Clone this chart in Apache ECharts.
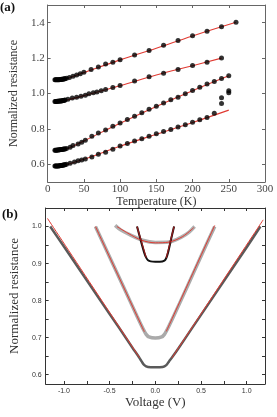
<!DOCTYPE html>
<html><head><meta charset="utf-8">
<script src="https://cdn.jsdelivr.net/npm/echarts@6/dist/echarts.min.js"></script>
<style>html,body{margin:0;padding:0;background:#fff}#c{width:277px;height:417px}</style>
</head><body><div id="c"></div>
<script>
// ---------- Panel (a): resistance vs temperature ----------
const tempTicks = [0, 50, 100, 150, 200, 250, 300];
const resTicksA = [0.6, 0.8, 1.0, 1.2, 1.4];

const s1T = [10,11,12,13,14,15,16,17,18,19,20,21,22,23,24,26,30,35,40,45,50,60,70,80,90,100,120,140,160,180,200,220,240,260];
const s1R = [1.077,1.077,1.077,1.077,1.078,1.078,1.078,1.079,1.079,1.080,1.080,1.081,1.082,1.083,1.084,1.086,1.090,1.098,1.104,1.111,1.120,1.135,1.150,1.166,1.177,1.190,1.217,1.243,1.272,1.300,1.326,1.351,1.377,1.402];

const s2T = [10,11,12,13,14,15,16,17,18,19,20,21,22,23,24,28,34,40,46,52,57,63,68,74,80,90,100,120,140,160,180,200,220,240];
const s2R = [0.955,0.955,0.955,0.956,0.956,0.956,0.957,0.957,0.958,0.958,0.959,0.960,0.961,0.962,0.963,0.968,0.974,0.979,0.985,0.990,0.998,1.004,1.009,1.015,1.023,1.034,1.045,1.070,1.094,1.115,1.136,1.158,1.177,1.200];

const s3T = [10,11,12,13,14,15,16,17,18,19,20,21,22,23,24,26,31,35,42,47,52,61,70,80,90,100,110,120,130,140,150,160,170,180,190,200,210,220,230,240,250];
const s3R = [0.680,0.680,0.680,0.681,0.681,0.681,0.682,0.682,0.683,0.683,0.684,0.685,0.686,0.686,0.687,0.689,0.696,0.706,0.715,0.725,0.736,0.758,0.777,0.794,0.815,0.834,0.853,0.872,0.891,0.911,0.928,0.947,0.964,0.979,0.998,1.017,1.036,1.053,1.068,1.085,1.100];

const s4T = [10,11,12,13,14,15,16,17,18,19,20,21,22,23,24,26,31,37,42,47,52,61,70,80,90,100,110,120,130,140,150,160,170,180,190,200,210,220,230,240,240,250,250];
const s4R = [0.590,0.590,0.590,0.591,0.591,0.591,0.592,0.592,0.593,0.593,0.594,0.595,0.596,0.597,0.598,0.600,0.606,0.613,0.620,0.625,0.630,0.641,0.657,0.668,0.685,0.704,0.717,0.732,0.745,0.758,0.772,0.785,0.796,0.811,0.824,0.838,0.851,0.864,0.889,0.944,0.976,1.004,1.016];

const fit1 = [[10,1.077],[20,1.079],[30,1.089],[50,1.118],[100,1.190],[150,1.256],[200,1.325],[260,1.402]];
const fit2 = [[10,0.955],[20,0.958],[30,0.967],[50,0.988],[100,1.044],[150,1.104],[200,1.157],[240,1.200]];
const fit3 = [[10,0.680],[20,0.682],[30,0.693],[50,0.732],[100,0.832],[150,0.927],[200,1.016],[250,1.100]];
const fit4 = [[10,0.590],[20,0.593],[30,0.603],[50,0.628],[100,0.702],[150,0.770],[200,0.836],[250,0.906]];

// ---------- Panel (b): resistance vs voltage ----------
const voltLabels = [-1.0, -0.5, 0.0, 0.5, 1.0];
const voltTicks = [-1.0,-0.75,-0.5,-0.25,0,0.25,0.5,0.75,1.0];
const resLabelsB = [0.6, 0.7, 0.8, 0.9, 1.0];
const resTicksB = [0.6,0.65,0.7,0.75,0.8,0.85,0.9,0.95,1.0];

const curveA = [[-1.15,1.0],[-1.0,0.946],[-0.8,0.873],[-0.6,0.800],[-0.4,0.728],[-0.25,0.673],[-0.18,0.648],[-0.15,0.636],[-0.12,0.626],[-0.08,0.621],[0,0.620],[0.08,0.621],[0.12,0.626],[0.15,0.636],[0.19,0.649],[0.25,0.670],[0.4,0.725],[0.6,0.798],[0.8,0.871],[1.0,0.944],[1.15,1.0]];
const curveB = [[-0.655,1.0],[-0.5,0.918],[-0.35,0.838],[-0.2,0.758],[-0.13,0.722],[-0.1,0.709],[-0.07,0.702],[0,0.699],[0.07,0.702],[0.1,0.709],[0.13,0.722],[0.2,0.758],[0.35,0.838],[0.5,0.920],[0.65,1.0]];
const curveC = [[-0.44,1.003],[-0.38,0.991],[-0.28,0.978],[-0.14,0.963],[0,0.957],[0.15,0.958],[0.29,0.972],[0.37,0.985],[0.43,1.0]];
const curveD = [[-0.2,1.0],[-0.16,0.963],[-0.12,0.928],[-0.1,0.916],[-0.08,0.909],[-0.05,0.906],[0,0.905],[0.05,0.905],[0.1,0.908],[0.12,0.915],[0.14,0.930],[0.17,0.963],[0.205,1.0]];

const fitALeft = [[-1.18,1.022],[-0.17,0.645]];
const fitARight = [[0.18,0.645],[1.18,1.018]];
const fitBLeft = [[-0.655,1.0],[-0.12,0.716]];
const fitBRight = [[0.12,0.717],[0.65,1.003]];
const fitC = [[-0.42,1.0],[-0.3,0.982],[-0.15,0.963],[0,0.956],[0.15,0.958],[0.3,0.973],[0.42,0.997]];
const fitDLeft = [[-0.2,1.0],[-0.1,0.916]];
const fitDRight = [[0.12,0.915],[0.205,1.0]];

const zip = (xs, ys) => xs.map((x, i) => [x, ys[i]]);
const serif = 'Liberation Serif';
const sans = 'Liberation Sans';
const frameA = '#666';
const frameB = '#333';
const red = '#e03a32';

function axisCommon(color) {
  return {
    axisLine: { show: true, onZero: false, lineStyle: { color: color, width: 1 } },
    splitLine: { show: false },
    axisTick: { show: true, inside: true, length: 3, lineStyle: { color: color } }
  };
}

const chart = echarts.init(document.getElementById('c'), null, { renderer: 'canvas' });

const xAxis = [
  Object.assign(axisCommon(frameA), {
    type: 'value', gridIndex: 0, position: 'bottom', min: 0, max: 300, interval: 50,
    axisLabel: { fontFamily: serif, fontSize: 11, color: '#444', margin: 2, customValues: tempTicks },
    axisTick: { show: true, inside: true, length: 3, lineStyle: { color: frameA }, customValues: tempTicks },
    name: 'Temperature (K)', nameLocation: 'middle', nameGap: 10,
    nameTextStyle: { fontFamily: serif, fontSize: 12, color: '#333' }
  }),
  Object.assign(axisCommon(frameA), {
    type: 'value', gridIndex: 0, position: 'top', min: 0, max: 300, interval: 50,
    axisLabel: { show: false }
  }),
  Object.assign(axisCommon(frameB), {
    type: 'value', gridIndex: 1, position: 'bottom', min: -1.2, max: 1.2,
    axisLabel: { fontFamily: sans, fontSize: 7, color: '#333', margin: 4, customValues: voltLabels,
      formatter: v => v.toFixed(1) },
    axisTick: { show: true, inside: true, length: 3, lineStyle: { color: frameB }, customValues: voltTicks },
    name: 'Voltage (V)', nameLocation: 'middle', nameGap: 10,
    nameTextStyle: { fontFamily: serif, fontSize: 13, color: '#333' }
  }),
  Object.assign(axisCommon(frameB), {
    type: 'value', gridIndex: 1, position: 'top', min: -1.2, max: 1.2,
    axisLabel: { show: false },
    axisTick: { show: true, inside: true, length: 3, lineStyle: { color: frameB }, customValues: voltTicks }
  })
];

const yAxis = [
  Object.assign(axisCommon(frameA), {
    type: 'value', gridIndex: 0, position: 'left', min: 0.5, max: 1.5,
    axisLabel: { fontFamily: serif, fontSize: 11, color: '#444', margin: 3, customValues: resTicksA,
      formatter: v => v.toFixed(1) },
    axisTick: { show: true, inside: true, length: 3, lineStyle: { color: frameA }, customValues: resTicksA },
    name: 'Normalized resistance', nameLocation: 'middle', nameGap: 19,
    nameTextStyle: { fontFamily: serif, fontSize: 12, color: '#333' }
  }),
  Object.assign(axisCommon(frameA), {
    type: 'value', gridIndex: 0, position: 'right', min: 0.5, max: 1.5,
    axisLabel: { show: false },
    axisTick: { show: true, inside: true, length: 3, lineStyle: { color: frameA }, customValues: resTicksA }
  }),
  Object.assign(axisCommon(frameB), {
    type: 'value', gridIndex: 1, position: 'left', min: 0.575, max: 1.05,
    axisLabel: { fontFamily: sans, fontSize: 7, color: '#333', margin: 4, customValues: resLabelsB,
      formatter: v => v.toFixed(1) },
    axisTick: { show: true, inside: true, length: 3, lineStyle: { color: frameB }, customValues: resTicksB },
    name: 'Normalized resistance', nameLocation: 'middle', nameGap: 21,
    nameTextStyle: { fontFamily: serif, fontSize: 13, color: '#333' }
  }),
  Object.assign(axisCommon(frameB), {
    type: 'value', gridIndex: 1, position: 'right', min: 0.575, max: 1.05,
    axisLabel: { show: false },
    axisTick: { show: true, inside: true, length: 3, lineStyle: { color: frameB }, customValues: resTicksB }
  })
];

function fitA(data) {
  return { type: 'line', xAxisIndex: 0, yAxisIndex: 0, data: data, smooth: 0.4, showSymbol: false,
    lineStyle: { color: red, width: 1.1 }, z: 2, silent: true };
}
function dotsA(data) {
  return { type: 'scatter', xAxisIndex: 0, yAxisIndex: 0, data: data, symbol: 'circle', symbolSize: 5,
    itemStyle: { color: '#000' }, z: 3, silent: true };
}
function dataB(data, color, width) {
  return { type: 'line', xAxisIndex: 2, yAxisIndex: 2, data: data, smooth: 0.3, showSymbol: false,
    lineStyle: { color: color, width: width }, z: 2, silent: true };
}
function fitB(data, color, width) {
  return { type: 'line', xAxisIndex: 2, yAxisIndex: 2, data: data, smooth: 0.3, showSymbol: false,
    lineStyle: { color: color, width: width }, z: 4, silent: true };
}

const option = {
  animation: false,
  backgroundColor: '#fff',
  grid: [
    { left: 37, right: 12, top: 5, height: 177 },
    { left: 41, right: 12, top: 208, height: 176 }
  ],
  xAxis: xAxis,
  yAxis: yAxis,
  graphic: [
    { type: 'text', left: 0, top: 1, style: { text: '(a)', font: 'bold 13px "Liberation Serif"', fill: '#111' } },
    { type: 'text', left: 2, top: 208, style: { text: '(b)', font: 'bold 13px "Liberation Serif"', fill: '#111' } }
  ],
  series: [
    fitA(fit1), fitA(fit2), fitA(fit3), fitA(fit4),
    dotsA(zip(s1T, s1R)), dotsA(zip(s2T, s2R)), dotsA(zip(s3T, s3R)), dotsA(zip(s4T, s4R)),
    dataB(curveA, '#5a5a5a', 2.5),
    dataB(curveB, '#aaaaaa', 3.5),
    dataB(curveC, '#b0b0b0', 3.5),
    dataB(curveD, '#111', 2),
    fitB(fitALeft, red, 1), fitB(fitARight, red, 1),
    fitB(fitBLeft, red, 1), fitB(fitBRight, red, 1),
    fitB(fitC, red, 1),
    fitB(fitDLeft, '#8e1b1b', 1.3), fitB(fitDRight, '#8e1b1b', 1.3)
  ]
};
chart.setOption(option);
</script>
</body></html>
